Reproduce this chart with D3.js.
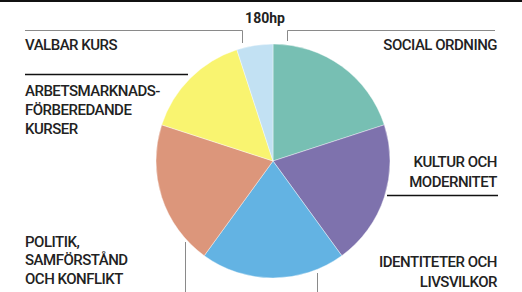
<!DOCTYPE html>
<html>
<head>
<meta charset="utf-8">
<script src="https://cdn.jsdelivr.net/npm/d3@7"></script>
<style>
  body { margin: 0; background: #fff; }
  text { font-family: Roboto, "DejaVu Sans", sans-serif; fill: #222; }
</style>
</head>
<body>
<svg id="chart" width="522" height="292"></svg>
<script>
// course blocks, clockwise from the top
var courses = ["SOCIAL ORDNING", "KULTUR OCH MODERNITET", "IDENTITETER OCH LIVSVILKOR",
               "POLITIK, SAMFÖRSTÅND OCH KONFLIKT", "ARBETSMARKNADSFÖRBEREDANDE KURSER", "VALBAR KURS"];
var credits = [36, 36, 36, 36, 27, 9];
var colours = ["#77bfb3", "#7e72ad", "#63b3e3", "#dc967b", "#f9f470", "#c2e1f3"];
var total = "180hp";

// label lines per block
var labelLines = [
	["SOCIAL ORDNING"],
	["KULTUR OCH", "MODERNITET"],
	["IDENTITETER OCH", "LIVSVILKOR"],
	["POLITIK,", "SAMFÖRSTÅND", "OCH KONFLIKT"],
	["ARBETSMARKNADS-", "FÖRBEREDANDE", "KURSER"],
	["VALBAR KURS"]
];

var svg = d3.select("#chart");
var cx = 273, cy = 161, r = 117;

// top rule
svg.append("rect").attr("x", 0).attr("y", 0).attr("width", 522).attr("height", 2).attr("fill", "#111");

var pie = d3.pie().sort(null).value(function(d) { return d; });
var arc = d3.arc().innerRadius(0).outerRadius(r);

svg.append("g")
	.attr("transform", "translate(" + cx + "," + cy + ")")
	.selectAll("path")
	.data(pie(credits))
	.join("path")
	.attr("d", arc)
	.attr("fill", function(d, i) { return colours[i]; })
	.attr("stroke", "#fff")
	.attr("stroke-width", 0.4);

svg.append("text")
	.attr("x", 265).attr("y", 23)
	.attr("text-anchor", "middle")
	.attr("font-size", 14).attr("font-weight", "bold")
	.text(total);

// leader lines
var grey = "#8a8a8a";
var lines = [
	{ d: "M25,30.5H242.5V43", c: grey, w: 1 },
	{ d: "M287.5,41V30.5H495", c: grey, w: 1 },
	{ d: "M25,74.5H188", c: "#111", w: 1.3 },
	{ d: "M387,195.5H498", c: "#111", w: 1.3 },
	{ d: "M185.5,242V292", c: grey, w: 1 },
	{ d: "M317.5,273V292", c: grey, w: 1 }
];
svg.selectAll("path.leader")
	.data(lines)
	.join("path")
	.attr("class", "leader")
	.attr("d", function(d) { return d.d; })
	.attr("fill", "none")
	.attr("stroke", function(d) { return d.c; })
	.attr("stroke-width", function(d) { return d.w; });

// label positions: x, first baseline, line step, anchor
var labelPos = [
	{ x: 497, y: 50, s: 19, a: "end" },
	{ x: 497, y: 167, s: 20, a: "end" },
	{ x: 497, y: 267, s: 19.5, a: "end" },
	{ x: 25, y: 246.5, s: 18.5, a: "start" },
	{ x: 25, y: 95.5, s: 19, a: "start" },
	{ x: 25, y: 50, s: 19, a: "start" }
];

labelLines.forEach(function(ls, i) {
	var p = labelPos[i];
	var t = svg.append("text")
		.attr("x", p.x).attr("y", p.y)
		.attr("text-anchor", p.a)
		.attr("font-size", 15)
		.attr("font-weight", 500)
		.attr("letter-spacing", -0.5);
	ls.forEach(function(l, j) {
		t.append("tspan").attr("x", p.x).attr("dy", j == 0 ? 0 : p.s).text(l);
	});
});
</script>
</body>
</html>
